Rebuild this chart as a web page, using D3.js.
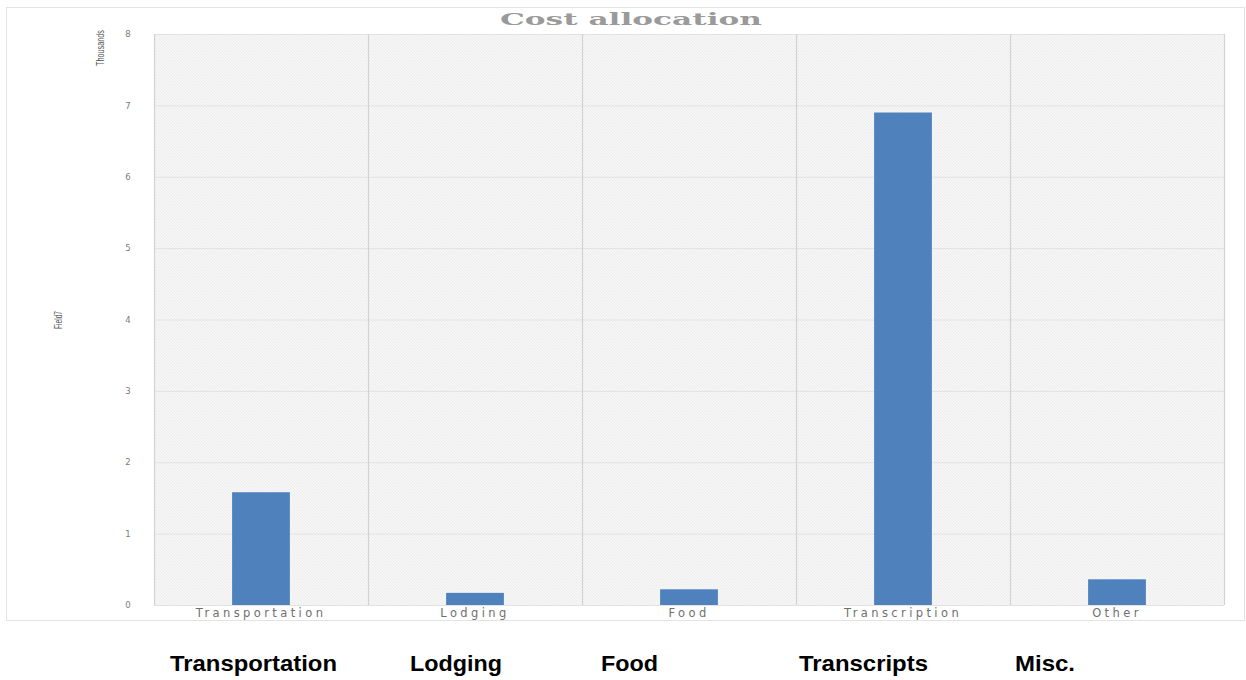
<!DOCTYPE html>
<html>
<head>
<meta charset="utf-8">
<script src="https://cdn.jsdelivr.net/npm/d3@7"></script>
<style>
  body { margin: 0; background: #fff; }
  svg { display: block; }
</style>
</head>
<body>
<div id="chart"></div>
<script>
// data (values in thousands)
const categories = ["Transportation", "Lodging", "Food", "Transcription", "Other"];
const costs = [1.58, 0.17, 0.22, 6.9, 0.36];
const yTicks = [0, 1, 2, 3, 4, 5, 6, 7, 8];
const footLabels = ["Transportation", "Lodging", "Food", "Transcripts", "Misc."];

const width = 1246, height = 680;
const margin = {top: 34, right: 22, bottom: 75, left: 154};
// layout of the bold labels under the chart (left edge, width)
const footX = [170, 410, 601, 799, 1015];
const footW = [167, 92, 57, 129, 60];

let svg = d3.select("#chart").append("svg")
    .attr("width", width)
    .attr("height", height);

// hatched plot background
let defs = svg.append("defs");
let pat = defs.append("pattern")
    .attr("id", "hatch")
    .attr("patternUnits", "userSpaceOnUse")
    .attr("width", 3)
    .attr("height", 3);
pat.append("rect").attr("width", 3).attr("height", 3).attr("fill", "#f6f6f6");
pat.append("path")
    .attr("d", "M-1,-1 l2,2 M0,0 l3,3 M2,-1 l2,2 M-1,2 l2,2")
    .attr("stroke", "#ebebeb")
    .attr("stroke-width", 0.8);

// outer chart frame
svg.append("rect")
    .attr("x", 6.5).attr("y", 7.5)
    .attr("width", 1238).attr("height", 613)
    .attr("fill", "none")
    .attr("stroke", "#e3e3e3");

let x = d3.scaleBand()
    .domain(categories)
    .range([margin.left, width - margin.right])
    .paddingInner(0)
    .paddingOuter(0);

let y = d3.scaleLinear()
    .domain([0, 8])
    .range([height - margin.bottom, margin.top]);

svg.append("rect")
    .attr("x", margin.left)
    .attr("y", y(8))
    .attr("width", x.range()[1] - margin.left)
    .attr("height", y(0) - y(8))
    .attr("fill", "url(#hatch)");

// horizontal gridlines
svg.append("g")
    .selectAll("line")
    .data(yTicks)
    .join("line")
    .attr("x1", margin.left)
    .attr("x2", x.range()[1])
    .attr("y1", d => y(d) + 0.5)
    .attr("y2", d => y(d) + 0.5)
    .attr("stroke", "#e2e2e2");

// vertical category separators
let edges = categories.map(c => x(c)).concat([x.range()[1]]);
svg.append("g")
    .selectAll("line")
    .data(edges)
    .join("line")
    .attr("x1", d => Math.round(d) + 0.5)
    .attr("x2", d => Math.round(d) + 0.5)
    .attr("y1", y(8))
    .attr("y2", y(0))
    .attr("stroke", "#d2d2d2")
    .attr("stroke-width", 1.2);

// bars
const barW = x.bandwidth() * 0.27;
svg.append("g")
    .selectAll("rect")
    .data(categories)
    .join("rect")
    .attr("x", d => x(d) + (x.bandwidth() - barW) / 2)
    .attr("y", (d, i) => y(costs[i]))
    .attr("width", barW)
    .attr("height", (d, i) => y(0) - y(costs[i]))
    .attr("fill", "#4f81bd");

// y axis tick labels
let yAxis = d3.axisLeft(y).tickValues(yTicks).tickSize(0).tickPadding(0);
let gy = svg.append("g")
    .attr("transform", "translate(132,0)")
    .call(yAxis);
gy.select(".domain").remove();
gy.selectAll("text")
    .attr("font-family", "DejaVu Sans")
    .attr("font-size", 8.5)
    .attr("fill", "#7a7a7a")
    .attr("text-anchor", "middle")
    .attr("dx", -4);

// x axis category labels
let xAxis = d3.axisBottom(x).tickSize(0).tickPadding(0);
let gx = svg.append("g")
    .attr("transform", `translate(0,${y(0) + 4})`)
    .call(xAxis);
gx.select(".domain").remove();
gx.selectAll("text")
    .attr("font-family", "DejaVu Sans")
    .attr("font-size", 11.5)
    .attr("fill", "#6f6f6f")
    .attr("letter-spacing", 3.4);

// title
svg.append("text")
    .attr("x", 631)
    .attr("y", 25)
    .attr("text-anchor", "middle")
    .attr("font-family", "DejaVu Serif")
    .attr("font-weight", "bold")
    .attr("font-size", 16)
    .attr("fill", "#9a9a9a")
    .attr("textLength", 262)
    .attr("lengthAdjust", "spacingAndGlyphs")
    .text("Cost allocation");

// axis titles (condensed, rotated)
svg.append("text")
    .attr("transform", "translate(104,48) rotate(-90)")
    .attr("text-anchor", "middle")
    .attr("font-family", "Liberation Sans Narrow, Liberation Sans")
    .attr("font-size", 11)
    .attr("fill", "#555")
    .attr("textLength", 36)
    .attr("lengthAdjust", "spacingAndGlyphs")
    .text("Thousands");

svg.append("text")
    .attr("transform", "translate(62,320) rotate(-90)")
    .attr("text-anchor", "middle")
    .attr("font-family", "Liberation Sans Narrow, Liberation Sans")
    .attr("font-size", 11)
    .attr("fill", "#555")
    .attr("textLength", 18)
    .attr("lengthAdjust", "spacingAndGlyphs")
    .text("Field7");

// bold labels under the chart
svg.append("g")
    .selectAll("text")
    .data(footLabels)
    .join("text")
    .attr("x", (d, i) => footX[i])
    .attr("y", 671)
    .attr("font-family", "Liberation Sans, Arial, sans-serif")
    .attr("font-weight", "bold")
    .attr("font-size", 22)
    .attr("fill", "#000")
    .attr("textLength", (d, i) => footW[i])
    .attr("lengthAdjust", "spacingAndGlyphs")
    .text(d => d);
</script>
</body>
</html>
